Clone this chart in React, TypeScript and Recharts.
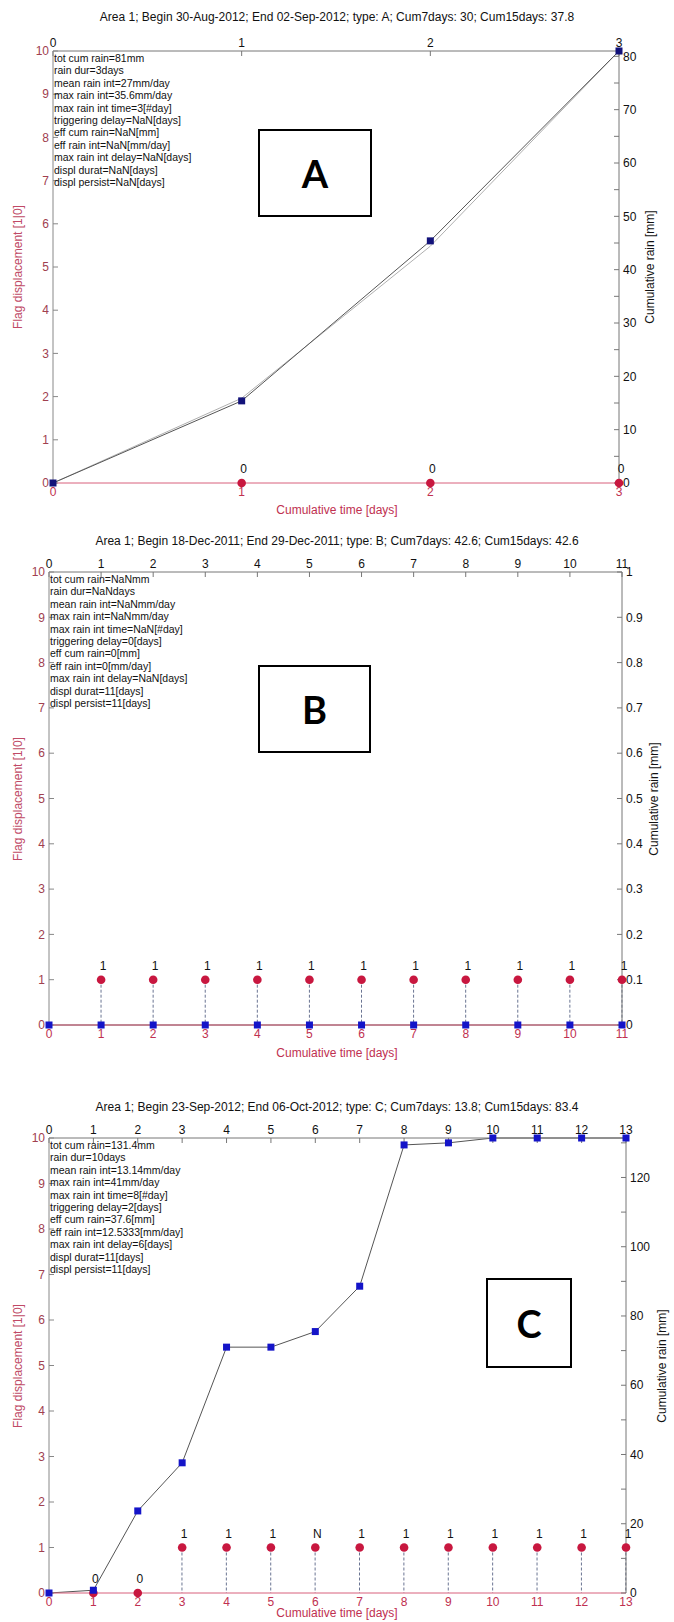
import React from 'react';
import { ComposedChart, Line, Scatter, Bar, XAxis, YAxis } from 'recharts';

// ---- panel A ----
const titleA = 'Area 1; Begin 30-Aug-2012; End 02-Sep-2012; type: A; Cum7days: 30; Cum15days: 37.8';
const daysA = [0, 1, 2, 3];
const rainA = [0, 15.4, 45.4, 81];
const rainA2 = [0, 15.9, 44.4, 81];
const flagDaysA = [1, 2, 3];
const flagsA = [0, 0, 0];
const flagLabelsA = ['0', '0', '0'];
const rainTicksA = [0, 5, 10, 15, 20, 25, 30, 35, 40, 45, 50, 55, 60, 65, 70, 75, 80];
const infoA = [
  'tot cum rain=81mm',
  'rain dur=3days',
  'mean rain int=27mm/day',
  'max rain int=35.6mm/day',
  'max rain int time=3[#day]',
  'triggering delay=NaN[days]',
  'eff cum rain=NaN[mm]',
  'eff rain int=NaN[mm/day]',
  'max rain int delay=NaN[days]',
  'displ durat=NaN[days]',
  'displ persist=NaN[days]',
];

// ---- panel B ----
const titleB = 'Area 1; Begin 18-Dec-2011; End 29-Dec-2011; type: B; Cum7days: 42.6; Cum15days: 42.6';
const daysB = [0, 1, 2, 3, 4, 5, 6, 7, 8, 9, 10, 11];
const rainB = [0, 0, 0, 0, 0, 0, 0, 0, 0, 0, 0, 0];
const flagDaysB = [1, 2, 3, 4, 5, 6, 7, 8, 9, 10, 11];
const flagsB = [1, 1, 1, 1, 1, 1, 1, 1, 1, 1, 1];
const flagLabelsB = ['1', '1', '1', '1', '1', '1', '1', '1', '1', '1', '1'];
const rainTicksB = [0, 0.1, 0.2, 0.3, 0.4, 0.5, 0.6, 0.7, 0.8, 0.9, 1];
const infoB = [
  'tot cum rain=NaNmm',
  'rain dur=NaNdays',
  'mean rain int=NaNmm/day',
  'max rain int=NaNmm/day',
  'max rain int time=NaN[#day]',
  'triggering delay=0[days]',
  'eff cum rain=0[mm]',
  'eff rain int=0[mm/day]',
  'max rain int delay=NaN[days]',
  'displ durat=11[days]',
  'displ persist=11[days]',
];

// ---- panel C ----
const titleC = 'Area 1; Begin 23-Sep-2012; End 06-Oct-2012; type: C; Cum7days: 13.8; Cum15days: 83.4';
const daysC = [0, 1, 2, 3, 4, 5, 6, 7, 8, 9, 10, 11, 12, 13];
const rainC = [0, 0.8, 23.7, 37.6, 71.0, 71.0, 75.5, 88.6, 129.4, 130.0, 131.4, 131.4, 131.4, 131.4];
const flagDaysC = [1, 2, 3, 4, 5, 6, 7, 8, 9, 10, 11, 12, 13];
const flagsC = [0, 0, 1, 1, 1, 1, 1, 1, 1, 1, 1, 1, 1];
const flagLabelsC = ['0', '0', '1', '1', '1', 'N', '1', '1', '1', '1', '1', '1', '1'];
const rainTicksC = [0, 10, 20, 30, 40, 50, 60, 70, 80, 90, 100, 110, 120, 130];
const infoC = [
  'tot cum rain=131.4mm',
  'rain dur=10days',
  'mean rain int=13.14mm/day',
  'max rain int=41mm/day',
  'max rain int time=8[#day]',
  'triggering delay=2[days]',
  'eff cum rain=37.6[mm]',
  'eff rain int=12.5333[mm/day]',
  'max rain int delay=6[days]',
  'displ durat=11[days]',
  'displ persist=11[days]',
];

const flagTicks = [0, 1, 2, 3, 4, 5, 6, 7, 8, 9, 10];

const FONT = '"Liberation Sans", Arial, Helvetica, sans-serif';
const RED = '#c8173f';
const RED_TXT = '#c03050';

const Stem = (p: any) => {
  if (!p.height || p.height <= 0) return null;
  const cx = p.x + p.width / 2;
  return <line x1={cx} x2={cx} y1={p.y} y2={p.y + p.height} stroke="#6a7492" strokeWidth={1} strokeDasharray="3 2" />;
};

const squareShape = (color: string) => (p: any) => (
  <rect x={p.cx - 3.5} y={p.cy - 3.5} width={7} height={7} fill={color} />
);

const RedDot = (p: any) => (
  <g>
    <circle cx={p.cx} cy={p.cy} r={4.3} fill={RED} />
    <text x={p.cx + 2} y={p.cy - 10} textAnchor="middle" fontSize={12} fontFamily={FONT} fill="#111">
      {p.payload.lbl}
    </text>
  </g>
);

interface PanelProps {
  top: number;
  height: number;
  box: { l: number; r: number; t: number; b: number };
  title: string;
  titleY: number;
  xLabelY: number;
  days: number[];
  rain: number[];
  rain2?: number[];
  flagDays: number[];
  flags: number[];
  flagLabels: string[];
  rainMax: number;
  rainTicks: number[];
  labelEvery: number;
  info: string[];
  letter: string;
  letterBox: { x: number; y: number; w: number; h: number };
  squareColor: string;
  rainLabelX: number;
}

const Panel: React.FC<PanelProps> = (p) => {
  const { l, r, t, b } = p.box;
  const rows = p.days.map((d, i) => {
    const fi = p.flagDays.indexOf(d);
    const f = fi >= 0 ? p.flags[fi] : null;
    return { day: d, rain: p.rain[i], rain2: p.rain2 ? p.rain2[i] : null, stem: f === 1 ? 1 : null };
  });
  const flagPts = p.flagDays.map((d, i) => ({ day: d, flag: p.flags[i], lbl: p.flagLabels[i] }));
  const last = p.days[p.days.length - 1];
  const margin = { top: t - p.top - 20, bottom: p.top + p.height - b - 20, left: l - 30, right: 674 - r - 40 };
  const midY = (t + b) / 2;
  const fmt = (v: number) => {
    const k = Math.round(v / p.labelEvery * 1000) / 1000;
    if (Math.abs(k - Math.round(k)) > 1e-6) return '';
    return String(Math.round(v * 10) / 10);
  };

  return (
    <>
      <div style={{ position: 'absolute', left: 0, top: p.top, width: 674, height: p.height }}>
        <ComposedChart width={674} height={p.height} data={rows} margin={margin}>
          <XAxis xAxisId="top" orientation="top" type="number" dataKey="day" domain={[0, last]} ticks={p.days}
            interval={0} height={20} tickSize={-5} tickMargin={9}
            axisLine={{ stroke: '#777' }} tickLine={{ stroke: '#777' }}
            tick={{ fill: '#111', fontSize: 12, fontFamily: FONT }} />
          <XAxis xAxisId="bottom" orientation="bottom" type="number" dataKey="day" domain={[0, last]} ticks={p.days}
            interval={0} height={20} tickSize={0} tickMargin={4} tickLine={false}
            axisLine={{ stroke: '#d8607c' }}
            tick={{ fill: RED_TXT, fontSize: 12, fontFamily: FONT }} />
          <YAxis yAxisId="flag" orientation="left" type="number" domain={[0, 10]} ticks={flagTicks}
            interval={0} width={30} tickSize={-5} tickMargin={9}
            axisLine={{ stroke: '#888' }} tickLine={{ stroke: '#888' }}
            tick={{ fill: '#a0404f', fontSize: 12, fontFamily: FONT }} />
          <YAxis yAxisId="rain" orientation="right" type="number" domain={[0, p.rainMax]} ticks={p.rainTicks}
            interval={0} width={40} tickSize={-5} tickMargin={9} tickFormatter={fmt}
            axisLine={{ stroke: '#777' }} tickLine={{ stroke: '#777' }}
            tick={{ fill: '#111', fontSize: 12, fontFamily: FONT }} />

          <Bar xAxisId="bottom" yAxisId="flag" dataKey="stem" barSize={2} shape={Stem} isAnimationActive={false} />
          <Scatter xAxisId="bottom" yAxisId="flag" data={flagPts} dataKey="flag" shape={RedDot} isAnimationActive={false} />
          {p.rain2 && (
            <Line xAxisId="top" yAxisId="rain" dataKey="rain2" type="linear" stroke="#b0b0b0" strokeWidth={1}
              dot={false} activeDot={false} isAnimationActive={false} />
          )}
          <Line xAxisId="top" yAxisId="rain" dataKey="rain" type="linear" stroke="#555" strokeWidth={1}
            dot={false} activeDot={false} isAnimationActive={false} />
          <Scatter xAxisId="top" yAxisId="rain" data={rows} dataKey="rain" shape={squareShape(p.squareColor)} isAnimationActive={false} />
        </ComposedChart>
      </div>

      <div style={{ position: 'absolute', left: 0, top: p.titleY - 8, width: 674, textAlign: 'center',
        fontFamily: FONT, fontSize: 12, lineHeight: '16px', color: '#111' }}>
        {p.title}
      </div>

      <div style={{ position: 'absolute', left: l + 1, top: t + 1, fontFamily: FONT, fontSize: 10.5,
        lineHeight: '12.4px', color: '#111', whiteSpace: 'pre' }}>
        {p.info.map((s, i) => <div key={i}>{s}</div>)}
      </div>

      <div style={{ position: 'absolute', left: 18 - 100, top: midY - 8, width: 200, textAlign: 'center',
        transform: 'rotate(-90deg)', fontFamily: FONT, fontSize: 12, lineHeight: '16px', color: '#c04a66' }}>
        Flag displacement [1|0]
      </div>

      <div style={{ position: 'absolute', left: p.rainLabelX - 100, top: midY - 8, width: 200, textAlign: 'center',
        transform: 'rotate(-90deg)', fontFamily: FONT, fontSize: 12, lineHeight: '16px', color: '#111' }}>
        Cumulative rain [mm]
      </div>

      <div style={{ position: 'absolute', left: 0, top: p.xLabelY - 7, width: 674, textAlign: 'center',
        fontFamily: FONT, fontSize: 12, lineHeight: '14px', color: RED_TXT }}>
        Cumulative time [days]
      </div>

      <div style={{ position: 'absolute', left: p.letterBox.x, top: p.letterBox.y, width: p.letterBox.w,
        height: p.letterBox.h, boxSizing: 'border-box', border: '2px solid #000', background: '#fff',
        display: 'flex', alignItems: 'center', justifyContent: 'center',
        fontFamily: 'Lato, "Open Sans", sans-serif', fontWeight: 700, fontSize: 38, color: '#000' }}>
        {p.letter}
      </div>
    </>
  );
};

export default function App() {
  return (
    <div style={{ position: 'absolute', left: 0, top: 0, width: 674, height: 1622, background: '#fff', overflow: 'hidden' }}>
      <Panel top={0} height={530} box={{ l: 53, r: 619, t: 51, b: 483 }} title={titleA} titleY={17} xLabelY={510}
        days={daysA} rain={rainA} rain2={rainA2} flagDays={flagDaysA} flags={flagsA} flagLabels={flagLabelsA}
        rainMax={81} rainTicks={rainTicksA} labelEvery={10} info={infoA}
        letter="A" letterBox={{ x: 258, y: 129, w: 114, h: 88 }} squareColor="#12127a" rainLabelX={650} />
      <Panel top={528} height={540} box={{ l: 49, r: 622, t: 572, b: 1025 }} title={titleB} titleY={541} xLabelY={1053}
        days={daysB} rain={rainB} flagDays={flagDaysB} flags={flagsB} flagLabels={flagLabelsB}
        rainMax={1} rainTicks={rainTicksB} labelEvery={0.1} info={infoB}
        letter="B" letterBox={{ x: 258, y: 665, w: 113, h: 88 }} squareColor="#1414c8" rainLabelX={654} />
      <Panel top={1090} height={532} box={{ l: 49, r: 626, t: 1138, b: 1593 }} title={titleC} titleY={1107} xLabelY={1613}
        days={daysC} rain={rainC} flagDays={flagDaysC} flags={flagsC} flagLabels={flagLabelsC}
        rainMax={131.4} rainTicks={rainTicksC} labelEvery={20} info={infoC}
        letter="C" letterBox={{ x: 486, y: 1278, w: 86, h: 90 }} squareColor="#1414c8" rainLabelX={662} />
    </div>
  );
}
